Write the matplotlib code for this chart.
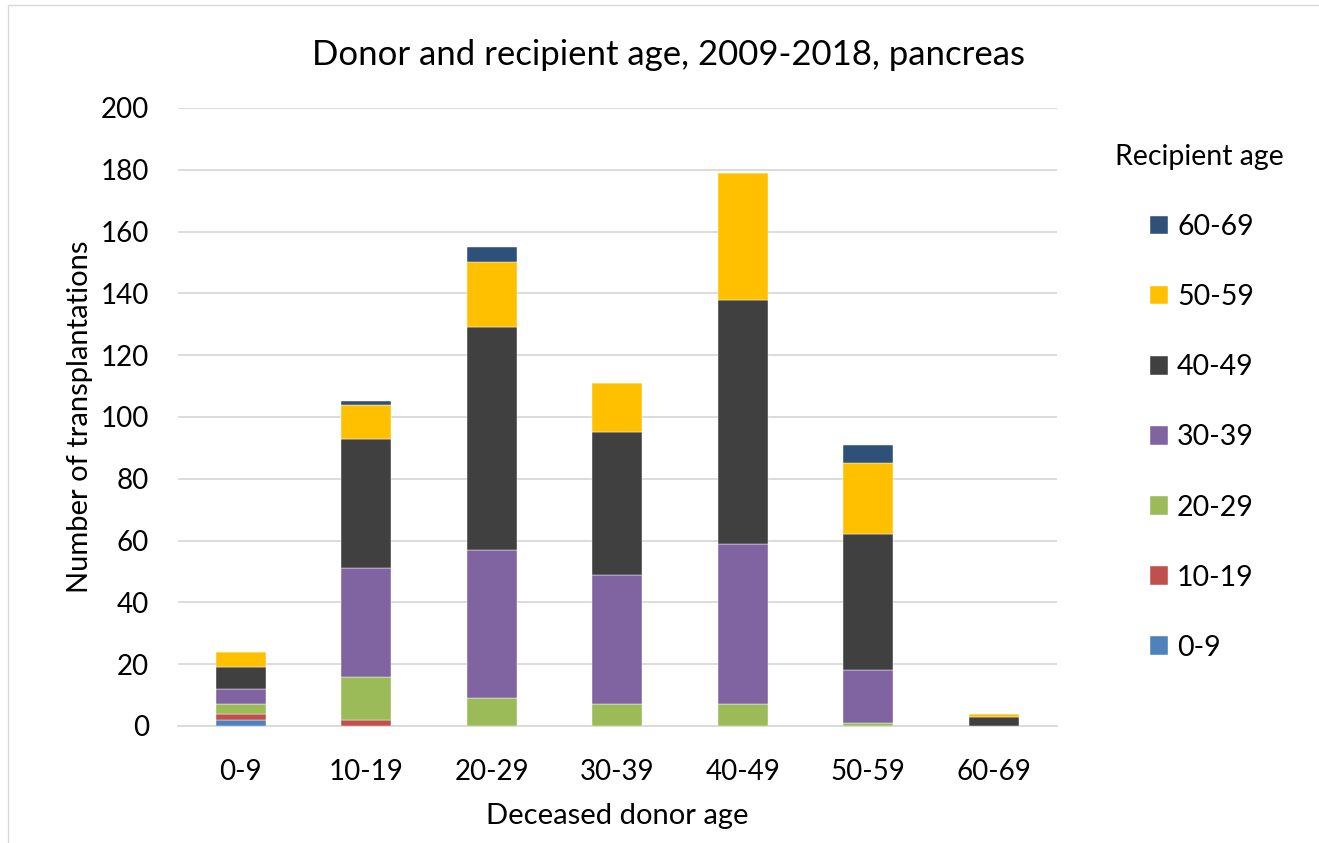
import matplotlib.pyplot as plt
from matplotlib.patches import Rectangle
import numpy as np

plt.rcParams['font.family'] = ['Lato', 'DejaVu Sans']

donor_ages = ['0-9', '10-19', '20-29', '30-39', '40-49', '50-59', '60-69']
recipient_ages = ['0-9', '10-19', '20-29', '30-39', '40-49', '50-59', '60-69']

# transplantations per donor age group, one list per recipient age group
rec_0_9 = [2, 0, 0, 0, 0, 0, 0]
rec_10_19 = [2, 2, 0, 0, 0, 0, 0]
rec_20_29 = [3, 14, 9, 7, 7, 1, 0]
rec_30_39 = [5, 35, 48, 42, 52, 17, 0]
rec_40_49 = [7, 42, 72, 46, 79, 44, 3]
rec_50_59 = [5, 11, 21, 16, 41, 23, 1]
rec_60_69 = [0, 1, 5, 0, 0, 6, 0]

colors = ['#4f81bd', '#c0504d', '#9bbb59', '#8064a2', '#404040', '#ffc000', '#2f5078']

series = [rec_0_9, rec_10_19, rec_20_29, rec_30_39, rec_40_49, rec_50_59, rec_60_69]

fig = plt.figure(figsize=(13.19, 8.43), dpi=100)
ax = fig.add_axes([0.135, 0.1388, 0.666, 0.7332])

x = np.arange(len(donor_ages))
bottom = np.zeros(len(donor_ages))
handles = []
for vals, col, lab in zip(series, colors, recipient_ages):
    b = ax.bar(x, vals, 0.4, bottom=bottom, color=col, label=lab,
               edgecolor='white', linewidth=0.3, zorder=3)
    handles.append(b)
    bottom += np.array(vals)

ax.set_xlim(-0.5, 6.5)
ax.set_ylim(0, 200)
ax.set_yticks(range(0, 201, 20))
ax.set_xticks(x)
ax.set_xticklabels(donor_ages)
ax.tick_params(axis='both', length=0, labelsize=20, colors='#000000')
ax.tick_params(axis='y', pad=21)
ax.tick_params(axis='x', pad=24)
ax.grid(axis='y', color='#d9d9d9', linewidth=1.3, zorder=0)
for s in ['top', 'right', 'left']:
    ax.spines[s].set_visible(False)
ax.spines['bottom'].set_color('#d9d9d9')
ax.spines['bottom'].set_linewidth(1.3)

ax.set_ylabel('Number of transplantations', fontsize=21, va='center')
ax.yaxis.set_label_coords(-0.1115, 0.5)
ax.set_xlabel('Deceased donor age', fontsize=21, va='center')
ax.xaxis.set_label_coords(0.5, -0.146)

fig.text(0.507, 0.935, 'Donor and recipient age, 2009-2018, pancreas',
         ha='center', va='center', fontsize=25)

fig.text(1115 / 1319, 1 - 157 / 843, 'Recipient age', ha='left', va='center', fontsize=20.5)
fig.legend(handles[::-1], recipient_ages[::-1], loc='upper left',
           bbox_to_anchor=(1150 / 1319, 1 - 214 / 843), frameon=False, fontsize=20.5,
           borderpad=0, borderaxespad=0,
           handlelength=0.63, handleheight=0.63, handletextpad=0.32,
           labelspacing=1.55)

# thin frame round the whole chart
fig.patches.append(Rectangle((0.006, -0.01), 1.2, 1.004, transform=fig.transFigure,
                             fill=False, edgecolor='#d9d9d9', linewidth=1.0))

fig.savefig('out.png', dpi=100)
